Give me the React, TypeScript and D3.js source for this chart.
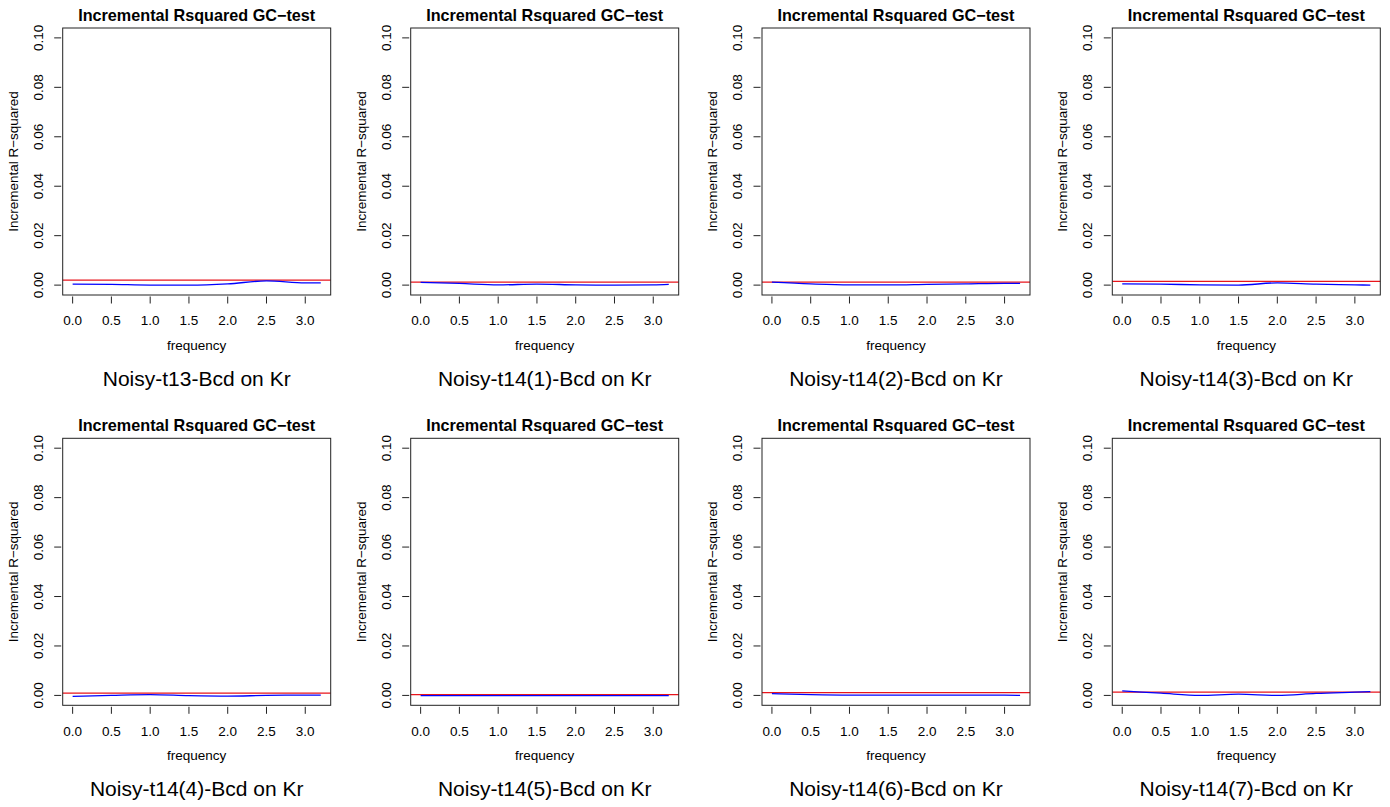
import React from 'react';
import * as d3 from 'd3';

const freqs = [0, 0.5, 1.0, 1.5, 2.0, 2.5, 3.0, 3.2];

const panelTitles = [
  'Noisy-t13-Bcd on Kr',
  'Noisy-t14(1)-Bcd on Kr',
  'Noisy-t14(2)-Bcd on Kr',
  'Noisy-t14(3)-Bcd on Kr',
  'Noisy-t14(4)-Bcd on Kr',
  'Noisy-t14(5)-Bcd on Kr',
  'Noisy-t14(6)-Bcd on Kr',
  'Noisy-t14(7)-Bcd on Kr',
];

// incremental R-squared by frequency (blue curve)
const rsq_t13 = [0.0004, 0.0003, 0.0, 0.0, 0.0005, 0.0017, 0.0009, 0.0009];
const rsq_t14_1 = [0.0011, 0.0007, 0.0001, 0.0004, 0.0001, 0.0, 0.0001, 0.0003];
const rsq_t14_2 = [0.0012, 0.0005, 0.0001, 0.0001, 0.0003, 0.0005, 0.0007, 0.0007];
const rsq_t14_3 = [0.0005, 0.0004, 0.0001, 0.0, 0.0009, 0.0004, 0.0001, 0.0];
const rsq_t14_4 = [-0.0004, 0.0, 0.0003, -0.0001, -0.0003, 0.0, 0.0001, 0.0001];
const rsq_t14_5 = [-0.0001, -0.0001, -0.0001, -0.0001, -0.0001, -0.0001, -0.0001, -0.0001];
const rsq_t14_6 = [0.0007, 0.0003, 0.0001, 0.0001, 0.0001, 0.0001, 0.0001, 0.0];
const rsq_t14_7 = [0.0018, 0.0009, 0.0, 0.0005, 0.0, 0.0008, 0.0013, 0.0015];

const series = [rsq_t13, rsq_t14_1, rsq_t14_2, rsq_t14_3, rsq_t14_4, rsq_t14_5, rsq_t14_6, rsq_t14_7];

// threshold (red horizontal line)
const thresholds = [0.002, 0.0012, 0.0012, 0.0015, 0.0009, 0.0003, 0.0011, 0.0013];

const xTicks = [0, 0.5, 1.0, 1.5, 2.0, 2.5, 3.0];
const yTicks = [0, 0.02, 0.04, 0.06, 0.08, 0.1];

const colLefts = [62.7, 410.7, 762, 1112.3];
const rowTops = [28, 438.3];
const boxW = 268;
const boxH = 267;
const font = '"Liberation Sans", Arial, Helvetica, sans-serif';

function Panel({idx}: {idx: number}) {
  const left = colLefts[idx % 4];
  const top = rowTops[Math.floor(idx / 4)];
  const x = d3.scaleLinear().domain([-0.128, 3.328]).range([left, left + boxW]);
  const y = d3.scaleLinear().domain([-0.004, 0.104]).range([top + boxH, top]);
  const line = d3
    .line<number>()
    .x((_, i) => x(freqs[i]))
    .y((d) => y(d))
    .curve(d3.curveMonotoneX);
  const bottom = top + boxH;
  const cx = left + boxW / 2;

  return (
    <g fontFamily={font}>
      <text x={cx} y={top - 13} textAnchor="middle" dominantBaseline="central" fontWeight="bold" fontSize={16.2}>
        Incremental Rsquared GC−test
      </text>
      <line x1={left} x2={left + boxW} y1={y(thresholds[idx])} y2={y(thresholds[idx])} stroke="#e8141c" strokeWidth={1.2} />
      <path d={line(series[idx]) || ''} fill="none" stroke="#0000ff" strokeWidth={1.3} />
      <rect x={left} y={top} width={boxW} height={boxH} fill="none" stroke="#222" strokeWidth={1} />
      {xTicks.map((t) => (
        <g key={t}>
          <line x1={x(t)} x2={x(t)} y1={bottom + 1.5} y2={bottom + 8.5} stroke="#222" />
          <text x={x(t)} y={bottom + 25.7} textAnchor="middle" dominantBaseline="central" fontSize={13.5}>
            {t.toFixed(1)}
          </text>
        </g>
      ))}
      {yTicks.map((t) => (
        <g key={t}>
          <line x1={left - 8.5} x2={left - 1.5} y1={y(t)} y2={y(t)} stroke="#222" />
          <text
            transform={`translate(${left - 24.7},${y(t)}) rotate(-90)`}
            textAnchor="middle"
            dominantBaseline="central"
            fontSize={13.5}
          >
            {t.toFixed(2)}
          </text>
        </g>
      ))}
      <text x={cx} y={bottom + 50.5} textAnchor="middle" dominantBaseline="central" fontSize={13.5}>
        frequency
      </text>
      <text
        transform={`translate(${left - 49.4},${(top + bottom) / 2}) rotate(-90)`}
        textAnchor="middle"
        dominantBaseline="central"
        fontSize={13.5}
      >
        Incremental R−squared
      </text>
      <text x={cx} y={bottom + 83} textAnchor="middle" dominantBaseline="central" fontSize={21}>
        {panelTitles[idx]}
      </text>
    </g>
  );
}

export default function App() {
  return (
    <svg
      width={1390}
      height={807}
      style={{position: 'absolute', left: 0, top: 0, background: '#fff'}}
    >
      <rect width={1390} height={807} fill="#fff" />
      {panelTitles.map((_, i) => (
        <Panel key={i} idx={i} />
      ))}
    </svg>
  );
}
